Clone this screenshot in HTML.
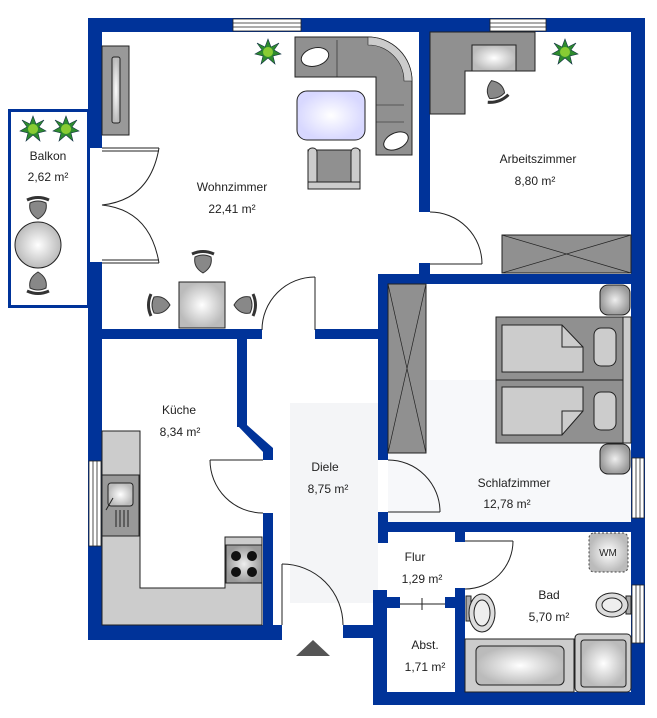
<!DOCTYPE html>
<html><head><meta charset="utf-8"><style>
html,body{margin:0;padding:0;background:#fff;}
svg{display:block;}
text{font-family:"Liberation Sans",sans-serif;font-size:12px;fill:#222;text-anchor:middle;}
</style></head><body>
<svg width="657" height="718" viewBox="0 0 657 718" xmlns="http://www.w3.org/2000/svg">
<defs>
<radialGradient id="g1"><stop offset="0" stop-color="#fff"/><stop offset="1" stop-color="#bbb"/></radialGradient>
<radialGradient id="g2"><stop offset="0" stop-color="#fff"/><stop offset="1" stop-color="#d8d8ff"/></radialGradient>
<radialGradient id="g3"><stop offset="0" stop-color="#eee"/><stop offset="1" stop-color="#999"/></radialGradient>
<g id="plant"><polygon points="0,-13 3,-5 11,-9 6,-2 13,2 5,4 7,12 0,6 -7,12 -5,4 -13,2 -6,-2 -11,-9 -3,-5" fill="#2e8b2e" stroke="#134" stroke-width="0.6"/><circle r="5" fill="#8c3"/></g>
<g id="chair"><path d="M-11,-9 Q0,-14 11,-9" fill="none" stroke="#333" stroke-width="3"/><path d="M-8,-6 Q0,-10 8,-6 Q10,4 0,10 Q-10,4 -8,-6Z" fill="#888" stroke="#333"/></g>
</defs>
<!-- floor tints -->
<rect x="290" y="403" width="88" height="200" fill="#f4f5f7"/>
<rect x="388" y="380" width="243" height="142" fill="#f7f8fa"/>
<g fill="#003399">
<!-- top wall -->
<rect x="88" y="18" width="557" height="14"/>
<!-- left wall -->
<rect x="88" y="18" width="14" height="130"/>
<rect x="88" y="262" width="14" height="378"/>
<!-- right wall -->
<rect x="631" y="18" width="14" height="687"/>
<!-- bottom right -->
<rect x="373" y="692" width="272" height="13"/>
<!-- wohn/arbeits -->
<rect x="419" y="32" width="11" height="180"/>
<rect x="419" y="263" width="11" height="12"/>
<rect x="378" y="274" width="267" height="10"/>
<!-- wohn bottom -->
<rect x="88" y="329" width="174" height="10"/>
<rect x="315" y="329" width="68" height="10"/>
<!-- diele right -->
<rect x="378" y="274" width="10" height="186"/>
<rect x="378" y="512" width="10" height="31"/>
<rect x="373" y="590" width="14" height="115"/>
<!-- kitchen right -->
<rect x="237" y="338" width="10" height="89"/>
<polygon points="237,425 247,425 273,448 273,460 263,460 263,452"/>
<rect x="263" y="513" width="10" height="113"/>
<rect x="88" y="625" width="194" height="15"/>
<rect x="343" y="625" width="35" height="13"/>
<!-- bed/bad wall -->
<rect x="378" y="522" width="267" height="10"/>
<rect x="455" y="532" width="10" height="10"/>
<rect x="455" y="588" width="10" height="117"/>
<rect x="383" y="597" width="17" height="11"/>
<rect x="445" y="597" width="15" height="11"/>
</g>
<!-- balcony outline -->
<rect x="9.5" y="110.5" width="79" height="196" fill="none" stroke="#003399" stroke-width="3"/>
<!-- windows -->
<g fill="#fff" stroke="#222" stroke-width="0.8">
<rect x="233" y="19" width="68" height="12"/><line x1="233" y1="23" x2="301" y2="23"/><line x1="233" y1="27" x2="301" y2="27"/>
<rect x="490" y="19" width="56" height="12"/><line x1="490" y1="23" x2="546" y2="23"/><line x1="490" y1="27" x2="546" y2="27"/>
<rect x="89" y="461" width="12" height="85"/><line x1="93" y1="461" x2="93" y2="546"/><line x1="97" y1="461" x2="97" y2="546"/>
<rect x="632" y="458" width="12" height="60"/><line x1="636" y1="458" x2="636" y2="518"/><line x1="640" y1="458" x2="640" y2="518"/>
<rect x="632" y="585" width="12" height="58"/><line x1="636" y1="585" x2="636" y2="643"/><line x1="640" y1="585" x2="640" y2="643"/>
</g>
<!-- doors -->
<g fill="none" stroke="#222" stroke-width="1">
<line x1="102" y1="148" x2="159" y2="148"/><line x1="102" y1="151" x2="159" y2="151"/>
<line x1="102" y1="260" x2="159" y2="260"/><line x1="102" y1="263" x2="159" y2="263"/>
<path d="M159,148 Q150,200 102,205 Q150,210 159,263"/>
<line x1="315" y1="277" x2="315" y2="330"/><path d="M315,277 A53,53 0 0 0 262,330"/>
<line x1="430" y1="264" x2="482" y2="264"/><path d="M430,212 A52,52 0 0 1 482,264"/>
<line x1="210" y1="460" x2="263" y2="460"/><path d="M210,460 A53,53 0 0 0 263,513"/>
<line x1="282" y1="564" x2="282" y2="625"/><path d="M282,564 A61,61 0 0 1 343,625"/>
<line x1="388" y1="512" x2="440" y2="512"/><path d="M388,460 A52,52 0 0 1 440,512"/>
<line x1="465" y1="541" x2="513" y2="541"/><path d="M513,541 A48,48 0 0 1 465,589"/>
<line x1="400" y1="604" x2="445" y2="604"/><line x1="422" y1="598" x2="422" y2="610"/>
</g>
<polygon points="296,656 330,656 313,640" fill="#555"/>
<!-- TV -->
<rect x="102" y="46" width="27" height="89" fill="#999" stroke="#222"/>
<rect x="112" y="57" width="8" height="66" rx="2" fill="url(#g1)" stroke="#222"/>
<!-- plants -->
<use href="#plant" x="268" y="52"/><use href="#plant" x="565" y="52"/>
<use href="#plant" x="33" y="129"/><use href="#plant" x="66" y="129"/>
<!-- sofa -->
<path d="M295,37 L368,37 A44,44 0 0 1 412,81 L412,155 L376,155 L376,77 L295,77Z" fill="#909090" stroke="#222"/>
<path d="M368,37 A44,44 0 0 1 412,81 L404,81 A36,36 0 0 0 368,45Z" fill="#ccc" stroke="#222" stroke-width="0.6"/>
<line x1="337" y1="40" x2="337" y2="77" stroke="#222" stroke-width="0.6"/>
<line x1="376" y1="105" x2="404" y2="105" stroke="#222" stroke-width="0.6"/>
<line x1="376" y1="122" x2="404" y2="122" stroke="#222" stroke-width="0.6"/>
<ellipse cx="315" cy="57" rx="14" ry="9" fill="#fff" stroke="#222" transform="rotate(-15 315 57)"/>
<ellipse cx="396" cy="141" rx="13" ry="8" fill="#fff" stroke="#222" transform="rotate(-25 396 141)"/>
<rect x="297" y="91" width="68" height="49" rx="10" fill="url(#g2)" stroke="#222"/>
<rect x="308" y="150" width="52" height="38" fill="#909090" stroke="#222"/>
<rect x="308" y="148" width="9" height="38" rx="4" fill="#ccc" stroke="#222"/>
<rect x="351" y="148" width="9" height="38" rx="4" fill="#ccc" stroke="#222"/>
<rect x="308" y="182" width="52" height="7" fill="#ccc" stroke="#222"/>
<!-- dining -->
<rect x="179" y="282" width="46" height="46" fill="url(#g1)" stroke="#222"/>
<use href="#chair" x="203" y="263"/>
<use href="#chair" x="160" y="305" transform="rotate(-90 160 305)"/>
<use href="#chair" x="244" y="305" transform="rotate(90 244 305)"/>
<!-- balcony furniture -->
<circle cx="38" cy="245" r="23" fill="url(#g1)" stroke="#222"/>
<use href="#chair" x="38" y="209"/>
<use href="#chair" x="38" y="282" transform="rotate(180 38 282)"/>
<!-- arbeitszimmer -->
<polygon points="430,32 535,32 535,71 465,71 465,114 430,114" fill="#909090" stroke="#222"/>
<rect x="472" y="45" width="44" height="26" fill="url(#g1)" stroke="#222"/>
<use href="#chair" x="495" y="90" transform="rotate(160 495 90)"/>
<rect x="502" y="235" width="129" height="38" fill="#909090" stroke="#222"/>
<path d="M502,235 L631,273 M502,273 L631,235" stroke="#222" stroke-width="0.7"/>
<!-- bedroom -->
<rect x="388" y="284" width="38" height="169" fill="#909090" stroke="#222"/>
<path d="M388,284 L426,453 M426,284 L388,453" stroke="#222" stroke-width="0.7"/>
<rect x="496" y="317" width="128" height="126" fill="#909090" stroke="#222"/>
<line x1="496" y1="380" x2="624" y2="380" stroke="#222"/>
<rect x="623" y="317" width="8" height="126" fill="#ccc" stroke="#222"/>
<path d="M502,325 L562,325 L583,347 L583,372 L502,372Z" fill="#ccc" stroke="#222"/>
<path d="M562,325 L562,347 L583,347" fill="none" stroke="#222"/>
<path d="M502,387 L583,387 L583,411 L562,435 L502,435Z" fill="#ccc" stroke="#222"/>
<path d="M583,411 L562,411 L562,435" fill="none" stroke="#222"/>
<rect x="594" y="328" width="22" height="38" rx="7" fill="#ccc" stroke="#222"/>
<rect x="594" y="392" width="22" height="38" rx="7" fill="#ccc" stroke="#222"/>
<rect x="600" y="285" width="30" height="30" rx="8" fill="url(#g3)" stroke="#222"/>
<rect x="600" y="444" width="30" height="30" rx="8" fill="url(#g3)" stroke="#222"/>
<!-- kitchen -->
<path d="M102,431 L140,431 L140,588 L225,588 L225,537 L262,537 L262,625 L102,625Z" fill="#ccc" stroke="#222"/>
<rect x="102" y="475" width="37" height="61" fill="#999" stroke="#222"/>
<rect x="108" y="483" width="25" height="23" rx="3" fill="url(#g1)" stroke="#222"/>
<path d="M106,510 L113,498 M116,510 V527 M120,510 V527 M124,510 V527 M128,510 V527" stroke="#222"/>
<rect x="226" y="545" width="36" height="38" fill="url(#g3)" stroke="#222"/>
<g fill="#111"><circle cx="236" cy="556" r="5"/><circle cx="252" cy="556" r="5"/><circle cx="236" cy="572" r="5"/><circle cx="252" cy="572" r="5"/></g>
<!-- bad -->
<rect x="589" y="533" width="39" height="39" rx="5" fill="url(#g1)" stroke="#444" stroke-dasharray="2,2"/>
<text x="608" y="556" style="font-size:10px">WM</text>
<rect x="466" y="596" width="5" height="25" fill="#aaa" stroke="#222"/>
<ellipse cx="482" cy="613" rx="13" ry="19" fill="#ddd" stroke="#222"/>
<ellipse cx="482" cy="613" rx="8" ry="13" fill="#eee" stroke="#222"/>
<rect x="626" y="596" width="5" height="18" fill="#aaa" stroke="#222"/>
<ellipse cx="612" cy="605" rx="16" ry="12" fill="#ddd" stroke="#222"/>
<ellipse cx="612" cy="605" rx="10" ry="7" fill="#eee" stroke="#222"/>
<rect x="465" y="639" width="109" height="53" fill="#ccc" stroke="#222"/>
<rect x="476" y="646" width="88" height="39" rx="5" fill="url(#g1)" stroke="#222"/>
<rect x="575" y="634" width="56" height="58" rx="4" fill="#ccc" stroke="#222"/>
<rect x="581" y="640" width="45" height="47" rx="3" fill="url(#g1)" stroke="#222"/>
<!-- labels -->
<text x="48" y="160">Balkon</text><text x="48" y="181">2,62 m²</text>
<text x="232" y="191">Wohnzimmer</text><text x="232" y="213">22,41 m²</text>
<text x="538" y="163">Arbeitszimmer</text><text x="535" y="185">8,80 m²</text>
<text x="179" y="414">Küche</text><text x="180" y="436">8,34 m²</text>
<text x="325" y="471">Diele</text><text x="328" y="493">8,75 m²</text>
<text x="514" y="487">Schlafzimmer</text><text x="507" y="508">12,78 m²</text>
<text x="415" y="561">Flur</text><text x="422" y="583">1,29 m²</text>
<text x="549" y="599">Bad</text><text x="549" y="621">5,70 m²</text>
<text x="425" y="649">Abst.</text><text x="425" y="671">1,71 m²</text>
</svg>
</body></html>
